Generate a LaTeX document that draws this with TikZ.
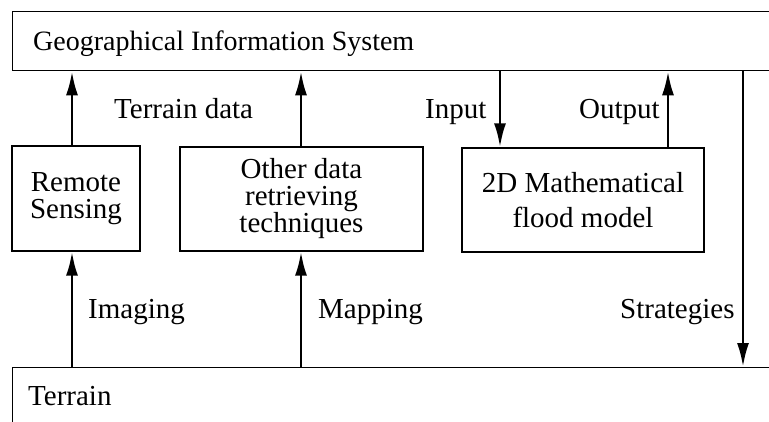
\documentclass[tikz,border=0pt]{standalone}
\usepackage{fontspec}
\setmainfont{Liberation Serif}
\usetikzlibrary{arrows.meta}
\begin{document}
\begin{tikzpicture}[x=1pt,y=-1pt,
  lbl/.style={anchor=base west,inner sep=0pt,font=\fontsize{29}{27}\selectfont},
  blk/.style={draw,line width=1.3pt,inner sep=0pt,align=center,font=\fontsize{29}{27}\selectfont},
  band/.style={draw,line width=1.3pt,inner sep=0pt,anchor=north west},
  arr/.style={line width=2.8pt,-{Latex[length=24pt,width=12pt]}}]
\useasboundingbox (0,0) rectangle (769,421);
\clip (0,0) rectangle (769,421);
% bands
\node[band,minimum width=790pt,minimum height=59pt] (gis) at (12,11) {};
\node[band,minimum width=790pt,minimum height=80pt] (ter) at (12,367) {};
\node[lbl,font=\fontsize{28}{27}\selectfont] (gist) at (33,50) {Geographical Information System};
\node[lbl] (tert) at (28,405) {Terrain};
% blocks
\node[blk,minimum width=128pt,minimum height=105pt] (rs) at (76,198.5) {Remote\\Sensing};
\node[blk,minimum width=243pt,minimum height=104pt] (od) at (301.5,199) {Other data\\retrieving\\techniques};
\node[blk,minimum width=242pt,minimum height=104pt,font=\fontsize{29}{35}\selectfont] (fm) at (583,200) {2D Mathematical\\flood model};
% arrow columns
\coordinate (c1) at (72,0);
\coordinate (c2) at (301,0);
\coordinate (c3) at (500,0);
\coordinate (c4) at (668,0);
\coordinate (c5) at (743,0);
\draw[arr] (rs.north -| c1) -- (gis.south -| c1);
\draw[arr] (od.north -| c2) -- (gis.south -| c2);
\draw[arr] (gis.south -| c3) -- (fm.north -| c3);
\draw[arr] (fm.north -| c4) -- (gis.south -| c4);
\draw[arr] (gis.south -| c5) -- (ter.north -| c5);
\draw[arr] (ter.north -| c1) -- (rs.south -| c1);
\draw[arr] (ter.north -| c2) -- (od.south -| c2);
% labels
\node[lbl] (l1) at (114,118) {Terrain data};
\node[lbl] (l2) at (425,118) {Input};
\node[lbl] (l3) at (579,118) {Output};
\node[lbl] (l4) at (88,318) {Imaging};
\node[lbl] (l5) at (318,318) {Mapping};
\node[lbl] (l6) at (620,318) {Strategies};
\end{tikzpicture}
\end{document}
